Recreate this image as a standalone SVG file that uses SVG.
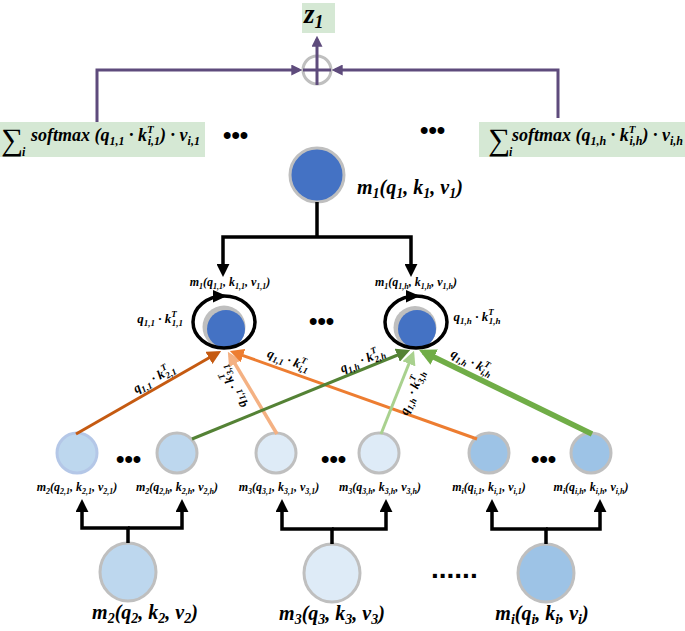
<svg xmlns="http://www.w3.org/2000/svg" width="685" height="631" viewBox="0 0 685 631">
<style>
.m{font-family:"Liberation Serif","DejaVu Serif",serif;font-weight:bold;font-style:italic;fill:#000}
.sig{font-family:"Liberation Serif","DejaVu Serif",serif;fill:#000}
.box{fill:#d5e8d4}
.pl{stroke:#5e4b7c;stroke-width:3;fill:none}
.bk{stroke:#000;stroke-width:3.5;fill:none}
.blue{fill:#4472c4}
.ring{fill:#bfbfbf}
.loop{fill:none;stroke:#000;stroke-width:3.5}
.dots{font-family:"Liberation Sans",sans-serif;font-weight:bold;fill:#000}
.nd{stroke:#bfbfbf;stroke-width:3}
</style>
<defs>
<marker id="mP" viewBox="0 0 10 10" refX="7" refY="5" markerWidth="11" markerHeight="11" markerUnits="userSpaceOnUse" orient="auto"><path d="M0,0 L10,5 L0,10 z" fill="#5e4b7c"/></marker>
<marker id="mK" viewBox="0 0 10 10" refX="7" refY="5" markerWidth="13" markerHeight="13" markerUnits="userSpaceOnUse" orient="auto"><path d="M0,0 L10,5 L0,10 z" fill="#000"/></marker>
<marker id="mDO" viewBox="0 0 10 10" refX="7" refY="5" markerWidth="14" markerHeight="14" markerUnits="userSpaceOnUse" orient="auto"><path d="M0,0 L10,5 L0,10 z" fill="#c55a11"/></marker>
<marker id="mLO" viewBox="0 0 10 10" refX="7" refY="5" markerWidth="14" markerHeight="14" markerUnits="userSpaceOnUse" orient="auto"><path d="M0,0 L10,5 L0,10 z" fill="#f4b183"/></marker>
<marker id="mO" viewBox="0 0 10 10" refX="7" refY="5" markerWidth="14" markerHeight="14" markerUnits="userSpaceOnUse" orient="auto"><path d="M0,0 L10,5 L0,10 z" fill="#ed7d31"/></marker>
<marker id="mDG" viewBox="0 0 10 10" refX="7" refY="5" markerWidth="14" markerHeight="14" markerUnits="userSpaceOnUse" orient="auto"><path d="M0,0 L10,5 L0,10 z" fill="#548235"/></marker>
<marker id="mLG" viewBox="0 0 10 10" refX="7" refY="5" markerWidth="14" markerHeight="14" markerUnits="userSpaceOnUse" orient="auto"><path d="M0,0 L10,5 L0,10 z" fill="#a9d18e"/></marker>
<marker id="mG" viewBox="0 0 10 10" refX="7" refY="5" markerWidth="17" markerHeight="17" markerUnits="userSpaceOnUse" orient="auto"><path d="M0,0 L10,5 L0,10 z" fill="#70ad47"/></marker>
</defs>

<g id="z1">
<rect class="box" x="302" y="3" width="33" height="30"/>
<text class="m" font-style="normal" font-size="27" x="304" y="23">z<tspan font-size="18" dy="5">1</tspan></text>
</g>

<g id="sum">
<circle cx="317" cy="70" r="14" fill="none" stroke="#bfbfbf" stroke-width="3"/>
</g>

<g id="head1">
<rect class="box" x="0" y="122" width="205" height="35"/>
<text class="sig" x="1" y="150" font-size="31">∑</text>
<text class="m" x="22" y="156" font-size="12">i</text>
<text class="m" font-size="18" x="31" y="141">softmax (q<tspan font-size="12" dy="4">1,1</tspan><tspan dy="-4"> · k</tspan><tspan font-size="11" dy="-8">T</tspan><tspan font-size="12" dx="-6" dy="12">i,1</tspan><tspan dy="-4">) · v</tspan><tspan font-size="12" dy="4">i,1</tspan></text>
</g>

<g id="headh">
<rect class="box" x="479" y="122" width="206" height="35"/>
<text class="sig" x="488" y="150" font-size="31">∑</text>
<text class="m" x="509" y="156" font-size="12">i</text>
<text class="m" font-size="18" x="512" y="141">softmax (q<tspan font-size="12" dy="4">1,h</tspan><tspan dy="-4"> · k</tspan><tspan font-size="11" dy="-8">T</tspan><tspan font-size="12" dx="-6" dy="12">i,h</tspan><tspan dy="-4">) · v</tspan><tspan font-size="12" dy="4">i,h</tspan></text>
</g>

<g id="ellipsis-top">
<text class="dots" x="223" y="143" font-size="24">•••</text>
<text class="dots" x="420" y="138" font-size="24">•••</text>
</g>

<g id="m1">
<circle class="blue nd" cx="317" cy="175" r="27"/>
<text class="m" font-size="20" x="357" y="194">m<tspan font-size="14" dy="4">1</tspan><tspan dy="-4">(q</tspan><tspan font-size="14" dy="4">1</tspan><tspan dy="-4">, k</tspan><tspan font-size="14" dy="4">1</tspan><tspan dy="-4">, v</tspan><tspan font-size="14" dy="4">1</tspan><tspan dy="-4">)</tspan></text>
</g>

<g id="head-node-1">
<text class="m" font-size="12" x="230" y="286" text-anchor="middle">m<tspan font-size="8" dy="3">1</tspan><tspan dy="-3">(q</tspan><tspan font-size="8" dy="3">1,1</tspan><tspan dy="-3">, k</tspan><tspan font-size="8" dy="3">1,1</tspan><tspan dy="-3">, v</tspan><tspan font-size="8" dy="3">1,1</tspan><tspan dy="-3">)</tspan></text>
<circle class="ring" cx="224" cy="327" r="21.5"/>
<circle class="blue" cx="226" cy="329" r="19"/>
<ellipse class="loop" cx="224" cy="322" rx="31" ry="26"/>
<polygon points="213,290 227,296 213,302.5" fill="#000"/>
<text class="m" font-size="13" x="160" y="323" text-anchor="middle">q<tspan font-size="9" dy="3">1,1</tspan><tspan dy="-3"> · k</tspan><tspan font-size="9" dy="-6">T</tspan><tspan font-size="9" dx="-5" dy="9">1,1</tspan></text>
</g>

<g id="head-node-h">
<text class="m" font-size="12" x="416" y="286" text-anchor="middle">m<tspan font-size="8" dy="3">1</tspan><tspan dy="-3">(q</tspan><tspan font-size="8" dy="3">1,h</tspan><tspan dy="-3">, k</tspan><tspan font-size="8" dy="3">1,h</tspan><tspan dy="-3">, v</tspan><tspan font-size="8" dy="3">1,h</tspan><tspan dy="-3">)</tspan></text>
<circle class="ring" cx="415" cy="327.5" r="21.5"/>
<circle class="blue" cx="417" cy="329" r="19"/>
<ellipse class="loop" cx="416" cy="322" rx="31" ry="26"/>
<polygon points="406,290 420,296 406,302.5" fill="#000"/>
<text class="m" font-size="13" x="477" y="321" text-anchor="middle">q<tspan font-size="9" dy="3">1,h</tspan><tspan dy="-3"> · k</tspan><tspan font-size="9" dy="-6">T</tspan><tspan font-size="9" dx="-5" dy="9">1,h</tspan></text>
</g>

<text class="dots" x="309" y="329" font-size="24">•••</text>

<g id="n21">
<circle cx="77" cy="453" r="20" fill="#bdd7ee" stroke="#b4c7e7" stroke-width="3"/>
<text class="m" font-size="12" x="77" y="491" text-anchor="middle">m<tspan font-size="8" dy="3">2</tspan><tspan dy="-3">(q</tspan><tspan font-size="8" dy="3">2,1</tspan><tspan dy="-3">, k</tspan><tspan font-size="8" dy="3">2,1</tspan><tspan dy="-3">, v</tspan><tspan font-size="8" dy="3">2,1</tspan><tspan dy="-3">)</tspan></text>
</g>
<g id="n2h">
<circle class="nd" cx="177" cy="453" r="20" fill="#bdd7ee"/>
<text class="m" font-size="12" x="177" y="491" text-anchor="middle">m<tspan font-size="8" dy="3">2</tspan><tspan dy="-3">(q</tspan><tspan font-size="8" dy="3">2,h</tspan><tspan dy="-3">, k</tspan><tspan font-size="8" dy="3">2,h</tspan><tspan dy="-3">, v</tspan><tspan font-size="8" dy="3">2,h</tspan><tspan dy="-3">)</tspan></text>
</g>
<g id="n31">
<circle class="nd" cx="276" cy="453" r="20" fill="#deebf7"/>
<text class="m" font-size="12" x="279" y="491" text-anchor="middle">m<tspan font-size="8" dy="3">3</tspan><tspan dy="-3">(q</tspan><tspan font-size="8" dy="3">3,1</tspan><tspan dy="-3">, k</tspan><tspan font-size="8" dy="3">3,1</tspan><tspan dy="-3">, v</tspan><tspan font-size="8" dy="3">3,1</tspan><tspan dy="-3">)</tspan></text>
</g>
<g id="n3h">
<circle class="nd" cx="379" cy="453" r="20" fill="#deebf7"/>
<text class="m" font-size="12" x="380" y="491" text-anchor="middle">m<tspan font-size="8" dy="3">3</tspan><tspan dy="-3">(q</tspan><tspan font-size="8" dy="3">3,h</tspan><tspan dy="-3">, k</tspan><tspan font-size="8" dy="3">3,h</tspan><tspan dy="-3">, v</tspan><tspan font-size="8" dy="3">3,h</tspan><tspan dy="-3">)</tspan></text>
</g>
<g id="ni1">
<circle class="nd" cx="489" cy="453" r="20" fill="#9dc3e6"/>
<text class="m" font-size="12" x="489" y="491" text-anchor="middle">m<tspan font-size="8" dy="3">i</tspan><tspan dy="-3">(q</tspan><tspan font-size="8" dy="3">i,1</tspan><tspan dy="-3">, k</tspan><tspan font-size="8" dy="3">i,1</tspan><tspan dy="-3">, v</tspan><tspan font-size="8" dy="3">i,1</tspan><tspan dy="-3">)</tspan></text>
</g>
<g id="nih">
<circle class="nd" cx="591" cy="453" r="20" fill="#9dc3e6"/>
<text class="m" font-size="12" x="591" y="491" text-anchor="middle">m<tspan font-size="8" dy="3">i</tspan><tspan dy="-3">(q</tspan><tspan font-size="8" dy="3">i,h</tspan><tspan dy="-3">, k</tspan><tspan font-size="8" dy="3">i,h</tspan><tspan dy="-3">, v</tspan><tspan font-size="8" dy="3">i,h</tspan><tspan dy="-3">)</tspan></text>
</g>

<g id="ellipsis-mid">
<text class="dots" x="116" y="467" font-size="24">•••</text>
<text class="dots" x="321" y="467" font-size="24">•••</text>
<text class="dots" x="531" y="467" font-size="24">•••</text>
</g>

<g id="m2">
<ellipse class="nd" cx="128" cy="572" rx="28" ry="29" fill="#bdd7ee"/>
<text class="m" font-size="20" x="145" y="619" text-anchor="middle">m<tspan font-size="14" dy="4">2</tspan><tspan dy="-4">(q</tspan><tspan font-size="14" dy="4">2</tspan><tspan dy="-4">, k</tspan><tspan font-size="14" dy="4">2</tspan><tspan dy="-4">, v</tspan><tspan font-size="14" dy="4">2</tspan><tspan dy="-4">)</tspan></text>
</g>
<g id="m3">
<ellipse class="nd" cx="332" cy="573" rx="28" ry="29" fill="#deebf7"/>
<text class="m" font-size="20" x="332" y="620" text-anchor="middle">m<tspan font-size="14" dy="4">3</tspan><tspan dy="-4">(q</tspan><tspan font-size="14" dy="4">3</tspan><tspan dy="-4">, k</tspan><tspan font-size="14" dy="4">3</tspan><tspan dy="-4">, v</tspan><tspan font-size="14" dy="4">3</tspan><tspan dy="-4">)</tspan></text>
</g>
<g id="mi">
<ellipse class="nd" cx="546" cy="573" rx="28" ry="29" fill="#9dc3e6"/>
<text class="m" font-size="20" x="542" y="620" text-anchor="middle">m<tspan font-size="14" dy="4">i</tspan><tspan dy="-4">(q</tspan><tspan font-size="14" dy="4">i</tspan><tspan dy="-4">, k</tspan><tspan font-size="14" dy="4">i</tspan><tspan dy="-4">, v</tspan><tspan font-size="14" dy="4">i</tspan><tspan dy="-4">)</tspan></text>
</g>
<text class="dots" x="431" y="578" font-size="28">......</text>

<g id="connectors">
<path class="pl" d="M97,122 V70 H299" marker-end="url(#mP)"/>
<path class="pl" d="M558,118 V70 H335" marker-end="url(#mP)"/>
<path class="pl" d="M317,85 V39" marker-end="url(#mP)"/>
<path class="pl" d="M303,70 H331"/>
<path class="bk" d="M317,202 V237"/>
<path class="bk" d="M317,237 H223 V273" marker-end="url(#mK)"/>
<path class="bk" d="M317,237 H411 V273" marker-end="url(#mK)"/>
<path class="bk" d="M128,543 V528 H82 V503" marker-end="url(#mK)"/>
<path class="bk" d="M128,528 H182 V503" marker-end="url(#mK)"/>
<path class="bk" d="M332,544 V529 H282 V503" marker-end="url(#mK)"/>
<path class="bk" d="M332,529 H386 V503" marker-end="url(#mK)"/>
<path class="bk" d="M546,544 V529 H492 V503" marker-end="url(#mK)"/>
<path class="bk" d="M546,529 H600 V503" marker-end="url(#mK)"/>
<line x1="76" y1="434" x2="217.5" y2="353" stroke="#c55a11" stroke-width="3" marker-end="url(#mDO)"/>
<line x1="277" y1="434" x2="230" y2="355.4" stroke="#f4b183" stroke-width="3.5" marker-end="url(#mLO)"/>
<line x1="477" y1="439" x2="233.8" y2="352.3" stroke="#ed7d31" stroke-width="3" marker-end="url(#mO)"/>
<line x1="192" y1="439" x2="406.3" y2="351.5" stroke="#548235" stroke-width="3" marker-end="url(#mDG)"/>
<line x1="381" y1="434" x2="412.5" y2="354.7" stroke="#a9d18e" stroke-width="3" marker-end="url(#mLG)"/>
<line x1="592" y1="434" x2="423.5" y2="352" stroke="#70ad47" stroke-width="5.5" marker-end="url(#mG)"/>
<text class="m" font-size="13" text-anchor="middle" transform="translate(156,382) rotate(-29.8)">q<tspan font-size="9" dy="3">1,1</tspan><tspan dy="-3"> · k</tspan><tspan font-size="9" dy="-6">T</tspan><tspan font-size="9" dx="-5" dy="9">2,1</tspan></text>
<text class="m" font-size="13" text-anchor="middle" transform="translate(236,385) rotate(-117)">q<tspan font-size="9" dy="3">1,1</tspan><tspan dy="-3"> · k</tspan><tspan font-size="9" dy="-6">T</tspan><tspan font-size="9" dx="-5" dy="9">3,1</tspan></text>
<text class="m" font-size="13" text-anchor="middle" transform="translate(287,364) rotate(19.6)">q<tspan font-size="9" dy="3">1,1</tspan><tspan dy="-3"> · k</tspan><tspan font-size="9" dy="-6">T</tspan><tspan font-size="9" dx="-5" dy="9">i,1</tspan></text>
<text class="m" font-size="13" text-anchor="middle" transform="translate(364,364) rotate(-22.2)">q<tspan font-size="9" dy="3">1,h</tspan><tspan dy="-3"> · k</tspan><tspan font-size="9" dy="-6">T</tspan><tspan font-size="9" dx="-5" dy="9">2,h</tspan></text>
<text class="m" font-size="13" text-anchor="middle" transform="translate(416,394) rotate(-68.3)">q<tspan font-size="9" dy="3">1,h</tspan><tspan dy="-3"> · k</tspan><tspan font-size="9" dy="-6">T</tspan><tspan font-size="9" dx="-5" dy="9">3,h</tspan></text>
<text class="m" font-size="13" text-anchor="middle" transform="translate(470,366) rotate(26)">q<tspan font-size="9" dy="3">1,h</tspan><tspan dy="-3"> · k</tspan><tspan font-size="9" dy="-6">T</tspan><tspan font-size="9" dx="-5" dy="9">i,h</tspan></text>
</g>
</svg>
